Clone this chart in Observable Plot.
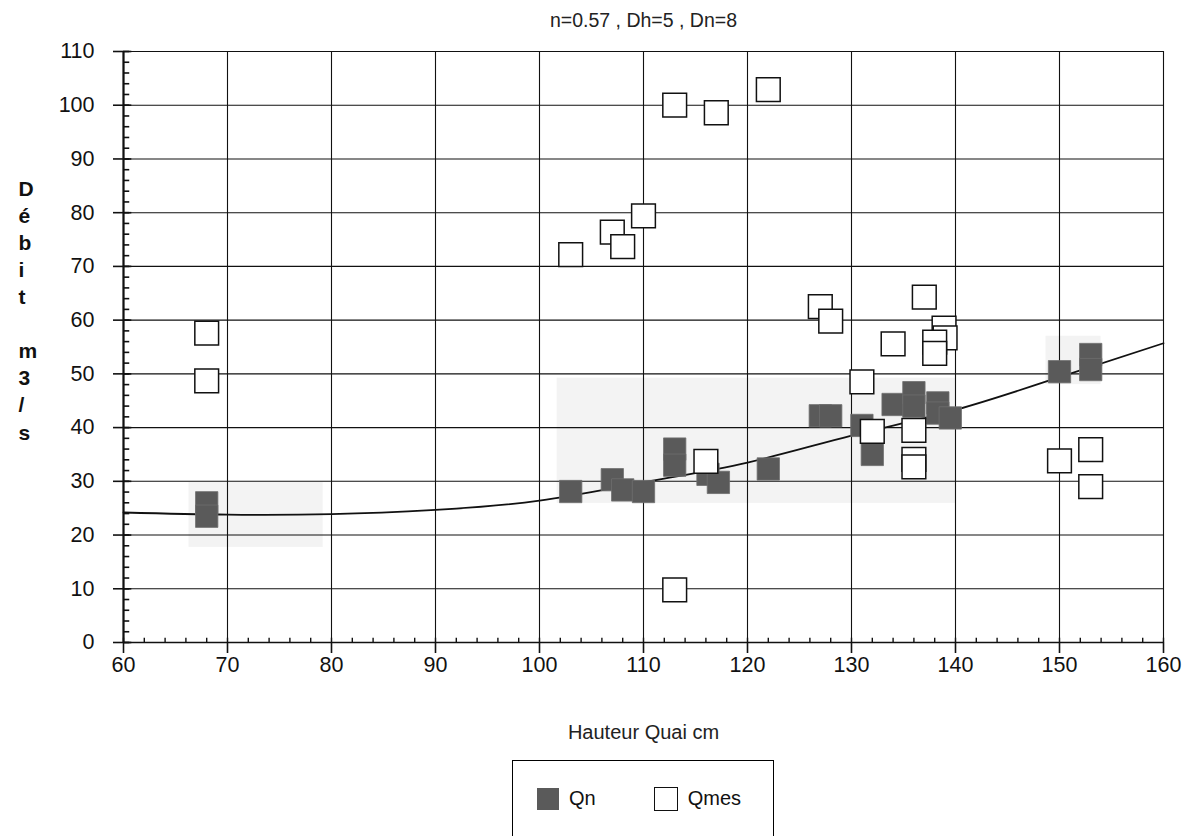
<!DOCTYPE html>
<html><head><meta charset="utf-8">
<script src="https://cdn.jsdelivr.net/npm/d3@7"></script>
<script src="https://cdn.jsdelivr.net/npm/@observablehq/plot@0.6"></script>
<style>
body{margin:0;background:#fff;font-family:"Liberation Sans",Arial,sans-serif;}
#legend{margin-left:512px;width:262px;height:76px;border:1px solid #000;border-bottom:none;display:flex;align-items:center;font-size:20px;color:#111;box-sizing:border-box;padding-left:24px}
.sw{width:22px;height:22px;display:inline-block;box-sizing:border-box}
g[aria-label="x-axis tick label"] text, g[aria-label="y-axis tick label"] text{font-size:21.5px !important;}
g[aria-label="x-axis tick label"], g[aria-label="y-axis tick label"]{font-size:21.5px !important;}
</style>
</head><body><div id="chart"></div><script>
// Qn (filled squares)
const qnX = [68, 68, 103, 107, 108, 110, 113, 113, 116.2, 117.2, 122, 127, 128, 131, 132, 134, 136, 136, 138.3, 138.3, 139.5, 150, 153, 153];
const qnY = [26, 23.5, 28.1, 30.3, 28.4, 28.1, 36, 33, 31.3, 29.8, 32.3, 42.2, 42.2, 40.4, 35, 44.3, 46.5, 44, 44.6, 42.7, 41.8, 50.4, 53.6, 50.8];
// Qmes (open squares)
const qmX = [68, 68, 103, 107, 108, 110, 113, 117, 122, 113, 116, 127, 128, 131, 132, 134, 136, 136, 136, 137, 138.9, 139, 138, 138, 150, 153, 153];
const qmY = [57.6, 48.7, 72.2, 76.4, 73.7, 79.4, 100, 98.6, 102.9, 9.8, 33.7, 62.5, 59.8, 48.5, 39.3, 55.6, 39.5, 34.1, 32.7, 64.3, 58.5, 56.7, 55.9, 53.8, 33.8, 35.9, 29];
// trend curve
const trendX = [60, 70, 80, 90, 100, 110, 120, 130, 140, 150, 160];
const trendY = [24.2, 23.8, 23.9, 24.7, 26.4, 29.8, 33.5, 38.5, 43.3, 49.4, 55.7];
// light shaded scan areas
const bandX1 = [101.7, 66.3, 148.7];
const bandX2 = [140, 79.2, 154];
const bandY1 = [25.9, 17.7, 48];
const bandY2 = [49.2, 29.8, 57];
// ticks
const xTicks = d3.range(60, 161, 10);
const yTicks = d3.range(0, 111, 10);
const xMinor = d3.range(60, 161, 2);
const yMinor = d3.range(0, 111, 2);
const titleText = "n=0.57 , Dh=5 , Dn=8";
const xLabel = "Hauteur Quai cm";
const yLabel = "D\né\nb\ni\nt\n\nm\n3\n/\ns";

const qn = qnX.map((x, i) => ({x, y: qnY[i]}));
const qm = qmX.map((x, i) => ({x, y: qmY[i]}));
const trend = trendX.map((x, i) => ({x, y: trendY[i]}));
const bands = bandX1.map((x1, i) => ({x1, x2: bandX2[i], y1: bandY1[i], y2: bandY2[i]}));

const chart = Plot.plot({
  width: 1194, height: 760,
  marginLeft: 123, marginRight: 31, marginTop: 51, marginBottom: 118,
  style: {fontFamily: "Liberation Sans, Arial, sans-serif", fontSize: "21.5px", color: "#111", background: "#fff"},
  x: {domain: [60, 160]},
  y: {domain: [0, 110]},
  marks: [
    Plot.rect(bands, {x1: "x1", x2: "x2", y1: "y1", y2: "y2", fill: "#f3f3f3"}),
    Plot.gridX(xTicks, {stroke: "#111", strokeOpacity: 1, strokeWidth: 1.1}),
    Plot.gridY(yTicks, {stroke: "#111", strokeOpacity: 1, strokeWidth: 1.1}),
    Plot.ruleY(yMinor, {x1: 60, x2: 60.6, stroke: "#111", strokeWidth: 1.6}),
    Plot.ruleY(yTicks, {x1: 60, x2: 60.8, stroke: "#111", strokeWidth: 1.6}),
    Plot.ruleX(xMinor, {y1: 0, y2: 0.8, stroke: "#111", strokeWidth: 1.4}),
    Plot.ruleX([60], {stroke: "#111", strokeWidth: 2.2}),
    Plot.ruleY([0], {stroke: "#111", strokeWidth: 1.6}),
    Plot.axisX({ticks: xTicks, tickSize: 11, tickPadding: 3, stroke: "#111", strokeWidth: 1.6, fontSize: 21.5, label: null, tickFormat: d => String(d)}),
    Plot.axisY({ticks: yTicks, tickSize: 10, tickPadding: 19, stroke: "#111", strokeWidth: 1.6, fontSize: 21.5, label: null, tickFormat: d => String(d)}),
    Plot.line(trend, {x: "x", y: "y", curve: "natural", stroke: "#111", strokeWidth: 1.8}),
    Plot.dot(qn, {x: "x", y: "y", symbol: "square", r: 12.6, fill: "#5a5a5a", stroke: "#6e6e6e", strokeWidth: 0.8}),
    Plot.dot(qm, {x: "x", y: "y", symbol: "square", r: 13.4, fill: "#fff", stroke: "#111", strokeWidth: 1.5}),
    Plot.text([titleText], {frameAnchor: "top", dy: -38, fontSize: 19.5, fill: "#222"}),
    Plot.text([xLabel], {frameAnchor: "bottom", dy: 96, fontSize: 20, fill: "#222"}),
    Plot.text([yLabel], {frameAnchor: "left", dx: -105, dy: -38, fontSize: 21, fontWeight: "bold", lineHeight: 1.29, fill: "#111"})
  ]
});
document.getElementById("chart").appendChild(chart);

const legend = document.createElement("div");
legend.id = "legend";
legend.innerHTML = `<span class="sw" style="background:#5a5a5a"></span><span style="margin-left:10px">Qn</span>
<span class="sw" style="border:1.5px solid #111;margin-left:58px;width:24px;height:24px"></span><span style="margin-left:10px">Qmes</span>`;
document.body.appendChild(legend);
</script></body></html>
